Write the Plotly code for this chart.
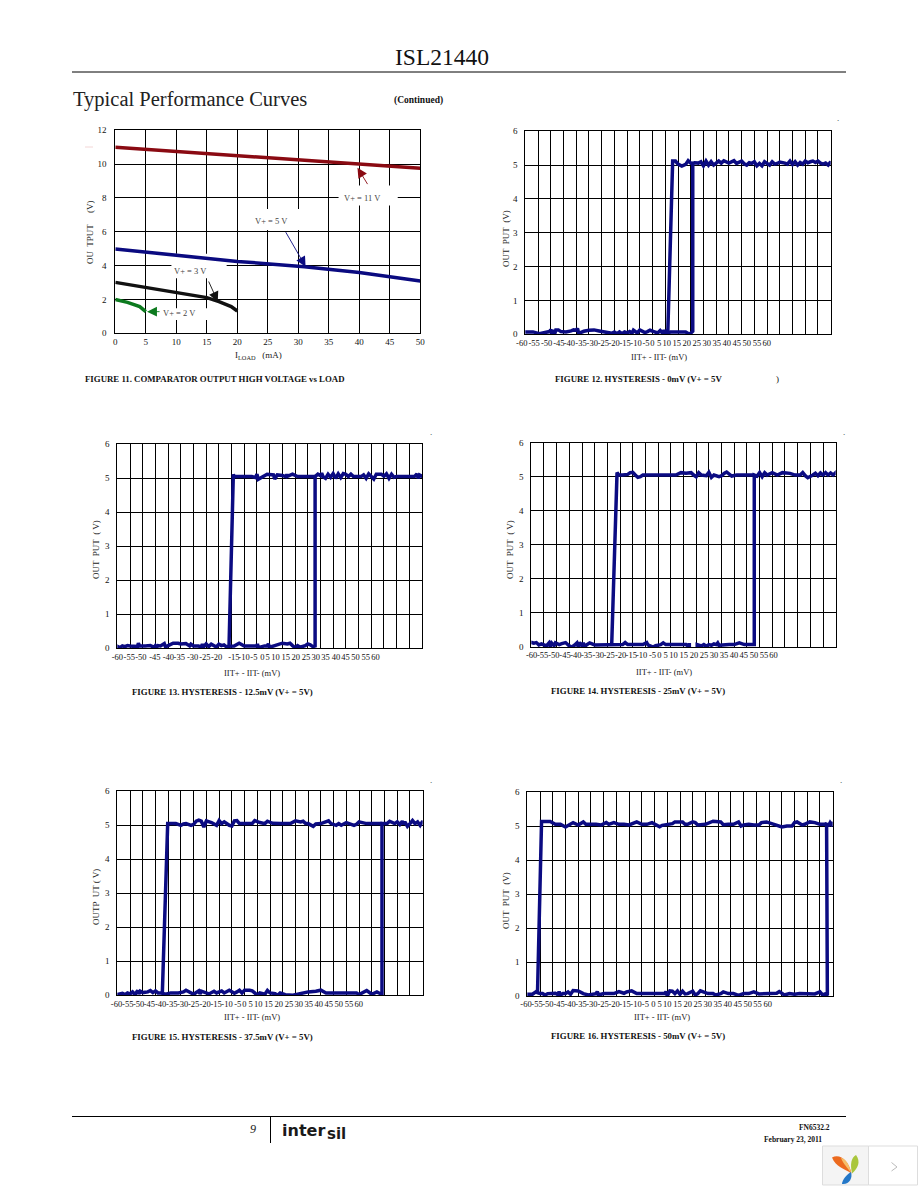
import plotly.graph_objects as go

W, H = 918, 1188
SERIF = "Liberation Serif"
NAVY = "#0B0B82"

# ---------- Figure 11 data ----------
LOAD_AXIS = [0, 5, 10, 15, 20, 25, 30, 35, 40, 45, 50]
V11_X = [0, 10, 20, 30, 40, 50]
V11_Y = [11.0, 10.76, 10.5, 10.26, 10.0, 9.75]
V5_X = [0, 10, 20, 31, 40, 50]
V5_Y = [4.98, 4.6, 4.25, 3.94, 3.6, 3.09]
V3_X = [0, 5, 10, 15, 17, 19, 20]
V3_Y = [3.01, 2.72, 2.42, 2.11, 1.87, 1.58, 1.32]
V2_X = [0, 2, 4, 5]
V2_Y = [2.0, 1.83, 1.58, 1.28]

# ---------- Hysteresis data: sweep up, then the return path ----------
F12_UP_X = [-60.3,-57,-54.5,-52,-50.5,-50,-49.5,-49,-48.5,-48,
            -47,-46,-44,-42,-41,-40,-39.5,-39,-37,-35,
            -33,-31,-29,-27,-26,-25,-24,-23,-22,-21,
            -20,-19,-18,-17.5,-16,-15,-14,-13,-12,-11,
            -9.5,-8,-7,-6,-5.5,-5,-4.5,-4,-3,-1,
            1,3,4.5,5.3,5.8,5.8,6.5,8,9,10,
            11,12,13,14,15,16,17,18,20,21,
            22,23,24,25,26,27,28,29,30,31,
            32,33,34,35,36,37,38,39,40,42,
            43,44,45,46,47,48,49,50,51,52,
            53,54,55,56,57,58,59,60,60.2,60.4]
F12_UP_Y = [0.07,0.07,0.02,0.07,0.08,0.14,0.02,0.13,0.0,0.13,
            0.13,0.08,0.07,0.1,0.13,0.12,0.17,0.03,0.09,0.12,
            0.13,0.1,0.07,0.06,0.03,0.07,0.02,0.07,0.02,0.07,
            0.04,0.08,0.04,0.12,0.04,0.13,0.09,0.05,0.08,0.12,
            0.08,0.04,0.11,0.03,0.12,0.02,0.13,0.03,0.07,0.07,
            0.08,0.07,0.0,0.06,0.09,5.05,5.07,5.06,5.1,4.98,
            5.12,5.0,5.1,5.0,5.06,5.12,5.06,5.13,5.06,5.11,
            5.13,5.05,5.08,5.12,5.04,5.0,5.07,5.05,5.1,4.98,
            5.05,4.98,5.1,5.06,5.0,5.1,5.03,5.05,5.09,5.06,
            5.03,5.12,5.02,5.1,5.0,5.08,5.03,5.12,5.07,5.1,
            5.12,5.08,5.12,5.06,5.03,5.06,5.0,5.1,5.02,5.1]
F12_BACK_X = [5.8,5,4,3,1.5,0,-1,-2.1,-4]
F12_BACK_Y = [5.05,5.06,5.13,5.02,4.97,5.03,5.12,5.12,0.07]

F13_UP_X = [-60.2,-59.8,-59,-58,-57,-56,-55,-53,-52,-51.7,
            -51.2,-49,-47,-45.5,-45,-44.5,-44,-43,-41.5,-41,
            -40,-38,-36,-35,-33,-31.5,-31,-30,-28,-27,
            -26.5,-26,-25,-24,-23,-22,-21,-20,-19,-18,
            -17,-16,-14,-12,-10,-8,-5,-4.8,-4.5,-2,
            -1,-0.5,0,2,4,5,7,8,9,10,
            11,12,14,15,16,17,17.9,17.9,19,20,
            20.5,21,22,23,24,25,26,27,28,29,
            30,31,32,33,34,35,36,37,38,39,
            40,41,42,43,44,45,46,47,48,49,
            50,52,54,56,57,58,58.5,59,60,60.2]
F13_UP_Y = [-0.05,0.05,0.02,0.07,0.05,0.08,0.07,0.07,0.05,0.15,
            0.07,0.07,0.08,0.03,0.08,0.03,0.08,0.07,0.14,0.04,
            0.07,0.15,0.15,0.13,0.14,0.07,0.12,0.07,0.07,0.03,
            0.12,0.04,0.13,0.05,0.12,0.08,0.04,0.12,0.08,0.1,
            0.04,0.06,0.07,0.15,0.07,0.07,0.07,0.13,0.02,0.07,
            0.07,0.13,0.03,0.08,0.14,0.15,0.13,0.15,0.08,0.02,
            0.08,0.03,0.08,0.13,0.1,0.05,0.07,5.05,5.12,5.08,
            5.15,5.05,5.0,5.12,5.03,5.14,5.0,5.13,5.02,5.14,
            5.12,5.05,5.12,5.05,5.05,5.05,5.05,5.1,5.0,5.13,
            5.05,4.98,5.12,5.13,5.12,5.06,5.13,5.0,5.12,5.03,
            5.05,5.05,5.05,5.05,5.05,5.13,5.0,5.1,5.05,5.05]
F13_BACK_X = [17.9,14,11,9,7,6.8,6.5,5,3,2,
              1.5,-1,-3,-4.5,-5,-5.5,-7,-10,-14,-14.3,-16]
F13_BACK_Y = [5.05,5.05,5.05,5.12,5.06,5.12,5.05,5.08,5.1,4.98,
              5.1,5.12,5.05,4.97,5.12,5.02,5.05,5.05,5.05,5.12,0.07]

F14_UP_X = [-60.2,-59,-58,-57,-56,-54,-53,-52.5,-52,-51,
            -50.5,-49,-48,-46.5,-45,-44,-43,-42,-41.5,-41,
            -40,-39.5,-39,-38,-37,-35,-33,-32,-30,-28,
            -26,-24,-23,-22,-20,-18,-16,-14.5,-14,-12,
            -11,-9,-8,-7,-5,-3,-1,1,2.3,2.3,
            None,5.4,5.4,7,8,9,10,11,12,13,
            13.5,14,16,18,20,22,24,26,27,27.9,
            27.9,29,30,31,32,33,35,36,37,39,
            42,44,45,46,47,47.5,48,49,50,51,
            52,53,54,55,56,57,58,59,60,60.4]
F14_UP_Y = [0.14,0.11,0.13,0.06,0.09,0.03,0.12,0.02,0.12,0.04,
            0.12,0.07,0.1,0.13,0.03,0.0,0.05,0.12,0.01,0.13,
            0.03,0.12,0.02,0.07,0.12,0.06,0.06,0.05,0.07,0.06,
            0.07,0.07,0.13,0.07,0.07,0.07,0.07,0.13,0.06,0.0,
            0.04,0.07,0.12,0.07,0.07,0.07,0.07,0.07,0.0,0.12,
            None,0.0,0.07,0.03,0.07,0.02,0.07,0.05,0.09,0.07,
            0.12,0.05,0.07,0.07,0.07,0.12,0.07,0.07,0.07,0.07,
            5.05,5.02,5.12,5.0,5.12,5.05,5.12,5.07,5.05,5.12,
            5.1,5.05,5.05,5.05,5.12,5.05,5.03,4.97,5.0,5.05,
            5.1,5.03,5.11,5.05,5.12,5.05,5.11,5.05,5.12,5.08]
F14_BACK_X = [27.9,24,21,19,17,16,15,14,12,11,
              10,9,7,6,5,4,3,1,-1,-3,
              -5,-11,-16,-17,-18,-19,-20,-21,-22,-24,-25.5,-26.2,-28.3]
F14_BACK_Y = [5.05,5.05,5.05,5.02,5.14,5.1,5.03,5.0,5.05,4.98,
              5.13,5.03,5.05,5.12,5.0,5.05,5.12,5.1,5.12,5.05,
              5.05,5.05,5.05,5.0,4.98,5.05,5.13,5.12,5.07,5.05,5.05,5.12,0.07]

F15_UP_X = [-60.3,-59.8,-58,-57,-56,-55,-54,-53,-52,-51.5,
            -51,-50,-48,-47,-46,-45,-44,-43,-41,-39,
            -36,-34,-33,-31,-30,-28,-27.5,-27,-25,-24,
            -22,-21,-19,-18,-16,-14,-13,-12,-11,-10,
            -8,-7,-6,-5,-4,-2,-1,0,2,3,
            4,6,9,12,15,18,20,22,23,25,
            27,28,30,32,34,35,37,38,40,42,
            43,44,44,46,47,48,49,50,51,52,
            52.5,53,54,55,56,57,58,59,60,60.3]
F15_UP_Y = [-0.04,0.03,0.06,0.02,0.07,0.04,0.1,0.02,0.14,0.04,
            0.12,0.08,0.1,0.14,0.08,0.13,0.07,0.07,0.03,0.07,
            0.07,0.1,0.15,0.07,0.03,0.13,0.04,0.12,0.07,0.04,
            0.12,0.07,0.13,0.07,0.15,0.06,0.1,0.15,0.07,0.15,
            0.15,0.13,0.07,0.0,0.07,0.03,0.14,0.07,0.05,0.0,
            0.07,0.02,0.0,0.05,0.1,0.12,0.15,0.07,0.07,0.07,
            0.07,0.07,0.07,0.07,0.07,0.02,0.09,0.14,0.03,0.1,
            0.06,0.03,5.05,5.05,5.12,5.08,5.05,5.1,5.02,5.12,
            5.03,5.1,4.97,5.05,5.14,5.05,5.1,5.0,5.12,5.05]
F15_BACK_X = [44,40,38,35,34,33,31,30,28,27,
              26,24,23,22,20,18,17,15,14,13,
              12,10,8,4,1,-1,-2,-4,-6,-7,
              -10,-12,-13,-14,-15,-16,-18,-19,-20,-21,
              -23,-25,-26,-27,-28,-29,-30,-31,-33,-34,-35,-37,-39,-40.2,-42.3]
F15_BACK_Y = [5.05,5.05,5.05,5.1,5.03,5.0,5.05,5.08,5.0,5.05,
              5.0,5.05,5.13,5.1,5.05,5.04,4.97,5.05,5.05,5.12,
              5.1,5.13,5.05,5.05,5.06,5.12,5.05,5.08,5.14,5.05,
              5.05,5.05,5.14,5.13,4.98,5.0,5.1,5.05,5.14,5.0,
              5.08,5.13,4.95,5.12,5.15,5.12,5.03,5.0,5.05,5.04,5.0,5.05,5.05,5.05,0.07]

F16_UP_X = [-60.2,-60,-58,-57,-56.5,-56,-55,-54,-53,-52,
            -51,-49,-48,-47.5,-47,-46,-45,-44,-43,-42,
            -40,-38,-36,-34,-33,-32.5,-32,-30,-28,-26,
            -25,-24,-22,-21,-19,-17,-15,-13,-11,-9,
            -6,-5.5,-5,-4,-3,-2,-1,0,1,1.5,
            2,3,5,6,7,8,9,11,13,14,
            16,17,19,21,23,25,27,29,31,33,
            35,37,38,39,40,41,43,45,47,49,
            51,53,55,56,57,57.9,57.6,58.5,59,60,60.3]
F16_UP_Y = [-0.03,0.05,0.05,0.09,0.13,0.1,0.07,0.07,0.03,0.07,
            0.07,0.08,0.04,0.13,0.03,0.07,0.07,0.12,0.05,0.16,
            0.15,0.07,0.03,0.07,0.07,0.13,0.03,0.07,0.07,0.07,
            0.1,0.13,0.08,0.12,0.15,0.07,0.07,0.07,0.07,0.07,
            0.07,0.13,0.0,0.15,0.14,0.07,0.15,0.05,0.14,0.1,
            0.06,0.07,0.14,0.03,0.07,0.15,0.12,0.07,0.07,0.03,
            0.07,0.12,0.07,0.07,0.02,0.07,0.07,0.12,0.06,0.07,
            0.07,0.07,0.08,0.13,0.07,0.03,0.07,0.05,0.07,0.07,
            0.07,0.06,0.12,0.03,0.06,0.02,5.05,5.03,5.1,5.0,5.12]
F16_BACK_X = [57.6,55,53,51,49,48,46,45,44,42,
              40,37,34,32,31,29,27,25,24,23,
              21,19,17,16,13,10,8,7,6,5,
              3,2,1,0,-2,-3,-5,-7,-8,-10,
              -11,-13,-15,-17,-19,-20,-22,-24,-26,-28,
              -29,-31,-33,-35,-37,-38,-40,-42,-44,-45,-47,-49,-51,-53,-54.4,-56]
F16_BACK_Y = [5.05,5.05,5.1,5.12,5.05,5.03,5.12,5.1,5.0,5.0,
              4.97,5.05,5.12,5.1,5.03,5.03,5.05,5.03,5.0,5.12,
              5.05,5.05,5.04,5.12,5.14,5.05,5.03,5.03,5.1,5.12,
              5.05,5.05,5.12,5.12,5.12,5.07,5.05,5.02,4.98,5.08,
              5.1,5.05,5.05,5.12,5.05,5.03,5.05,5.05,5.1,5.05,
              5.1,5.03,5.05,5.05,5.05,5.12,5.03,5.1,5.02,4.97,5.05,5.05,5.13,5.13,5.13,0.07]

# Printed tick labels and the positions they were printed at on the mV axis
MV_LABELS = ["-60","-55","-50","-45","-40","-35","-30","-25","-20","-15","-10","-5","0",
             "5","10","15","20","25","30","35","40","45","50","55","60"]
F12_TICKS = [-61.4,-56.5,-51.6,-46.8,-42.7,-38.1,-33.7,-29.3,-25.1,-20.8,-16.5,-12.6,-10.1,
             -7.4,-4.4,-0.5,3.4,7.4,11.3,15.2,19.2,23.1,27,31,34.9]
F13_TICKS = [-60,-55.3,-50.7,-45.2,-39.9,-35.6,-30.3,-25.5,-20.9,-14.1,-10.1,-6.2,-2.9,
             -0.8,2.3,6.3,10.3,14.3,18.2,22,26.1,29.9,33.8,37.8,41.7]
F14_TICKS = [-59.9,-55.5,-51.1,-46.7,-42.4,-38.2,-33.6,-29.3,-24.8,-20.6,-16.5,-12.2,-9.5,
             -7,-3.9,0.1,4.1,8.1,12,16,19.9,23.8,27.8,31.7,35.5]
F15_TICKS = [-60.3,-55.9,-51.6,-47.4,-43,-38.6,-34.3,-30,-25.5,-21.2,-16.9,-12.7,-10.1,
             -7.6,-4.6,-0.6,3.4,7.5,11.3,15.2,19.2,23.1,27,31,34.9]
F16_TICKS = [-60.5,-56.2,-51.9,-47.5,-43.2,-38.9,-34.6,-30.2,-25.9,-21.6,-17.3,-13.6,-10.5,
             -8,-5,-1,3,7,10.9,14.8,18.8,22.7,26.6,30.5,34.5]
MV_GRID = [-60,-55,-50,-45,-40,-35,-30,-25,-20,-15,-10,-5,0,5,10,15,20,25,30,35,40,45,50,55,60]


def px(x):
    return x / W


def py(y):
    return 1 - y / H


fig = go.Figure()
annotations, shapes = [], []


def text(x, y, s, size=9, anchor="center", angle=0, color="#111", family=SERIF, bold=False):
    annotations.append(dict(
        xref="paper", yref="paper", x=px(x), y=py(y), text=f"<b>{s}</b>" if bold else s,
        showarrow=False, xanchor=anchor, yanchor="middle", textangle=angle,
        font=dict(family=family, size=size, color=color), borderpad=0))


def rule(x0, y0, x1, y1, color="black", width=1):
    shapes.append(dict(type="line", xref="paper", yref="paper", x0=px(x0), y0=py(y0),
                       x1=px(x1), y1=py(y1), line=dict(color=color, width=width)))


TICKFONT = dict(family=SERIF, size=9, color="#111")
MVFONT = dict(family=SERIF, size=8.5, color="#111")

# ---------- Figure 11 ----------
fig.update_layout({
    "xaxis": dict(domain=[px(115.3), px(420.3)], range=[0, 50], tickvals=LOAD_AXIS,
                  showgrid=True, gridcolor="black", gridwidth=1, zeroline=False,
                  ticks="", tickfont=TICKFONT,
                  anchor="y", mirror=True, showline=True, linecolor="black"),
    "yaxis": dict(domain=[py(333.3), py(130.3)], range=[0, 12], tickvals=[0, 2, 4, 6, 8, 10, 12],
                  showgrid=True, gridcolor="black", gridwidth=1, zeroline=False,
                  ticks="outside", ticklen=6, tickcolor="rgba(0,0,0,0)", tickfont=TICKFONT,
                  anchor="x", mirror=True, showline=True, linecolor="black"),
})
for xs, ys, col in [(V11_X, V11_Y, "#8A0A12"), (V5_X, V5_Y, "#0A0A80"),
                    (V3_X, V3_Y, "#111111"), (V2_X, V2_Y, "#0C7A1E")]:
    fig.add_trace(go.Scatter(x=xs, y=ys, mode="lines", line=dict(color=col, width=3.5),
                             xaxis="x", yaxis="y", cliponaxis=False, showlegend=False))

for x0, x1, y0, y1 in [(36.6, 46.3, 7.55, 8.73), (22.3, 30.2, 6.1, 7.35),
                       (9.2, 18.25, 3.25, 4.7), (7.3, 15.2, 0.79, 1.48)]:
    shapes.append(dict(type="rect", xref="x", yref="y", x0=x0, x1=x1, y0=y0, y1=y1,
                       fillcolor="white", line=dict(width=0), layer="between"))

for tx, ty, hx, hy, col in [(41.5, 8.73, 39.7, 9.79, "#8A0A12"), (27.8, 6.07, 31.2, 3.94, "#0A0A80"),
                            (15.2, 3.15, 16.8, 1.87, "#111111"), (7.5, 1.28, 5.2, 1.28, "#0C7A1E")]:
    annotations.append(dict(xref="x", yref="y", axref="x", ayref="y", x=hx, y=hy, ax=tx, ay=ty, text="",
                            showarrow=True, arrowhead=2, arrowsize=2.2, arrowwidth=0.9, arrowcolor=col))

for lx, ly, s in [(40.5, 8.0, "V+ = 11 V"), (25.6, 6.64, "V+ = 5 V"),
                  (12.4, 3.7, "V+ = 3 V"), (10.6, 1.18, "V+ = 2 V")]:
    annotations.append(dict(xref="x", yref="y", x=lx, y=ly, text=s, showarrow=False,
                            font=dict(family=SERIF, size=8.5, color="#444")))

text(90, 233, "OU  TPUT     (V)", angle=-90, color="#222")
text(258, 355, "I<sub>LOAD</sub>   (mA)", size=9, color="#222")
text(84, 379, "FIGURE 11. COMPARATOR OUTPUT HIGH VOLTAGE vs LOAD", anchor="left", bold=True, size=8.8)

# ---------- Figures 12-16 ----------
PANELS = [
    (525.3, 830.7, 131.3, 334.3, F12_UP_X, F12_UP_Y, F12_BACK_X, F12_BACK_Y, F12_TICKS),
    (117.3, 422.0, 444.3, 648.3, F13_UP_X, F13_UP_Y, F13_BACK_X, F13_BACK_Y, F13_TICKS),
    (531.3, 835.7, 442.7, 647.0, F14_UP_X, F14_UP_Y, F14_BACK_X, F14_BACK_Y, F14_TICKS),
    (117.3, 422.7, 791.3, 995.3, F15_UP_X, F15_UP_Y, F15_BACK_X, F15_BACK_Y, F15_TICKS),
    (527.3, 832.7, 792.0, 996.0, F16_UP_X, F16_UP_Y, F16_BACK_X, F16_BACK_Y, F16_TICKS),
]
SHIFT_PX = 5
for i, (x0, x1, y0, y1, ux, uy, bx, by, ticks) in enumerate(PANELS, start=2):
    per_mv = (x1 - x0) / 120
    shift_mv = SHIFT_PX / per_mv
    fig.update_layout({
        f"xaxis{i}": dict(domain=[px(x0), px(x1)],
                          range=[-60, 60], tickmode="array", tickvals=[t + shift_mv for t in ticks],
                          ticklabelshift=-SHIFT_PX,
                          ticktext=MV_LABELS, tickangle=0, tickfont=MVFONT, showgrid=False,
                          zeroline=False, ticks="",
                          minor=dict(tickmode="array", tickvals=MV_GRID, showgrid=True,
                                     gridcolor="black", gridwidth=1, ticks=""),
                          showline=True, mirror=True, linecolor="black",
                          anchor=f"y{i}"),
        f"yaxis{i}": dict(domain=[py(y1), py(y0)], range=[0, 6], tickvals=[0, 1, 2, 3, 4, 5, 6],
                          tickfont=TICKFONT, showgrid=True, gridcolor="black", gridwidth=1,
                          zeroline=False, ticks="outside", ticklen=5, tickcolor="rgba(0,0,0,0)",
                          showline=True, mirror=True, linecolor="black",
                          anchor=f"x{i}"),
    })
    for xs, ys in [(ux, uy), (bx, by)]:
        fig.add_trace(go.Scatter(x=xs, y=ys, mode="lines", line=dict(color=NAVY, width=3.5),
                                 xaxis=f"x{i}", yaxis=f"y{i}", cliponaxis=False,
                                 connectgaps=False, showlegend=False))

XT = "IIT+ - IIT- (mV)"
for x, y, s, a in [(506, 238, "OUT  PUT  (V)", -90), (96, 550, "OUT  PUT  ( V)", -90),
                   (510, 550, "OUT  PUT  ( V)", -90), (96, 897, "OUTP  UT ( V)", -90),
                   (506, 900, "OUT  PUT  (V)", -90)]:
    text(x, y, s, angle=a, color="#222")
for x, y in [(659, 357), (252, 673), (664, 672), (252, 1017), (662, 1017)]:
    text(x, y, XT, size=8.5, color="#222")

text(554, 379, "FIGURE 12. HYSTERESIS - 0mV (V+ = 5V", anchor="left", bold=True, size=8.8)
text(775, 379, ")", anchor="left", size=9)
text(131, 692, "FIGURE 13. HYSTERESIS - 12.5mV (V+ = 5V)", anchor="left", bold=True, size=8.8)
text(550, 691, "FIGURE 14. HYSTERESIS - 25mV (V+ = 5V)", anchor="left", bold=True, size=8.8)
text(131, 1037, "FIGURE 15. HYSTERESIS - 37.5mV (V+ = 5V)", anchor="left", bold=True, size=8.8)
text(550, 1036, "FIGURE 16. HYSTERESIS - 50mV (V+ = 5V)", anchor="left", bold=True, size=8.8)

for x, y in [(838, 118), (431, 432), (844, 432), (431, 780), (841, 780)]:
    text(x, y, ".", size=9, color="#333")

# ---------- Page furniture ----------
text(442, 57, "ISL21440", size=23.5, color="#111")
rule(72, 72, 846, 72)
text(72, 99, "Typical Performance Curves", size=20.5, anchor="left", color="#222")
text(393, 101, "(Continued)", size=9.5, anchor="left", color="#111", bold=True)
rule(85, 147, 93, 147, color="#F3D6D6")
rule(72, 1116.5, 846, 1116.5)
rule(270.5, 1117, 270.5, 1143)
text(253, 1129, "<i>9</i>", size=12, color="#222")
text(281, 1130, "inter", size=16, anchor="left", family="DejaVu Sans", bold=True, color="#1a1a1a")
text(326, 1134, "sil", size=15, anchor="left", family="DejaVu Sans", bold=True, color="#1a1a1a")
text(831, 1127, "FN6532.2", size=7.5, anchor="right", bold=True)
text(823, 1139, "February 23, 2011", size=7.5, anchor="right", bold=True)

# corner widget
shapes.append(dict(type="rect", xref="paper", yref="paper", x0=px(822.5), x1=px(868.5), y0=py(1185), y1=py(1146),
                   fillcolor="#F4F4F4", line=dict(color="#DDDDDD", width=1)))
shapes.append(dict(type="rect", xref="paper", yref="paper", x0=px(868.5), x1=px(917.5), y0=py(1185), y1=py(1146),
                   fillcolor="white", line=dict(color="#DDDDDD", width=1)))


def leaf(points, color):
    c = [f"{px(a):.5f},{py(b):.5f}" for a, b in points]
    path = f"M {c[0]} C {c[1]} {c[2]} {c[3]} C {c[4]} {c[5]} {c[0]} Z"
    shapes.append(dict(type="path", xref="paper", yref="paper", path=path, fillcolor=color, line=dict(width=0)))


leaf([(851.5, 1173.5), (843, 1168), (836, 1167), (832, 1157.5), (840, 1153), (849, 1161)], "#EC6A1E")
leaf([(851, 1173), (847, 1167), (844, 1165), (841, 1158), (845, 1158), (850, 1165)], "#F6BE68")
leaf([(852, 1173.5), (850, 1164), (851, 1158), (856, 1155), (861, 1162), (858, 1168)], "#A9C63C")
leaf([(851, 1172), (847, 1174), (842, 1180), (842, 1184), (849, 1185), (853, 1178)], "#2478C8")
rule(891.5, 1162.5, 897, 1167, color="#BBBBBB")
rule(897, 1167, 891.5, 1171, color="#BBBBBB")

fig.update_layout(width=W, height=H, margin=dict(l=0, r=0, t=0, b=0, autoexpand=False), autosize=False,
                  paper_bgcolor="white", plot_bgcolor="white", showlegend=False,
                  annotations=annotations, shapes=shapes)
fig.write_html("out.html", config=dict(displayModeBar=False),
               post_script="document.body.style.margin='0';")
